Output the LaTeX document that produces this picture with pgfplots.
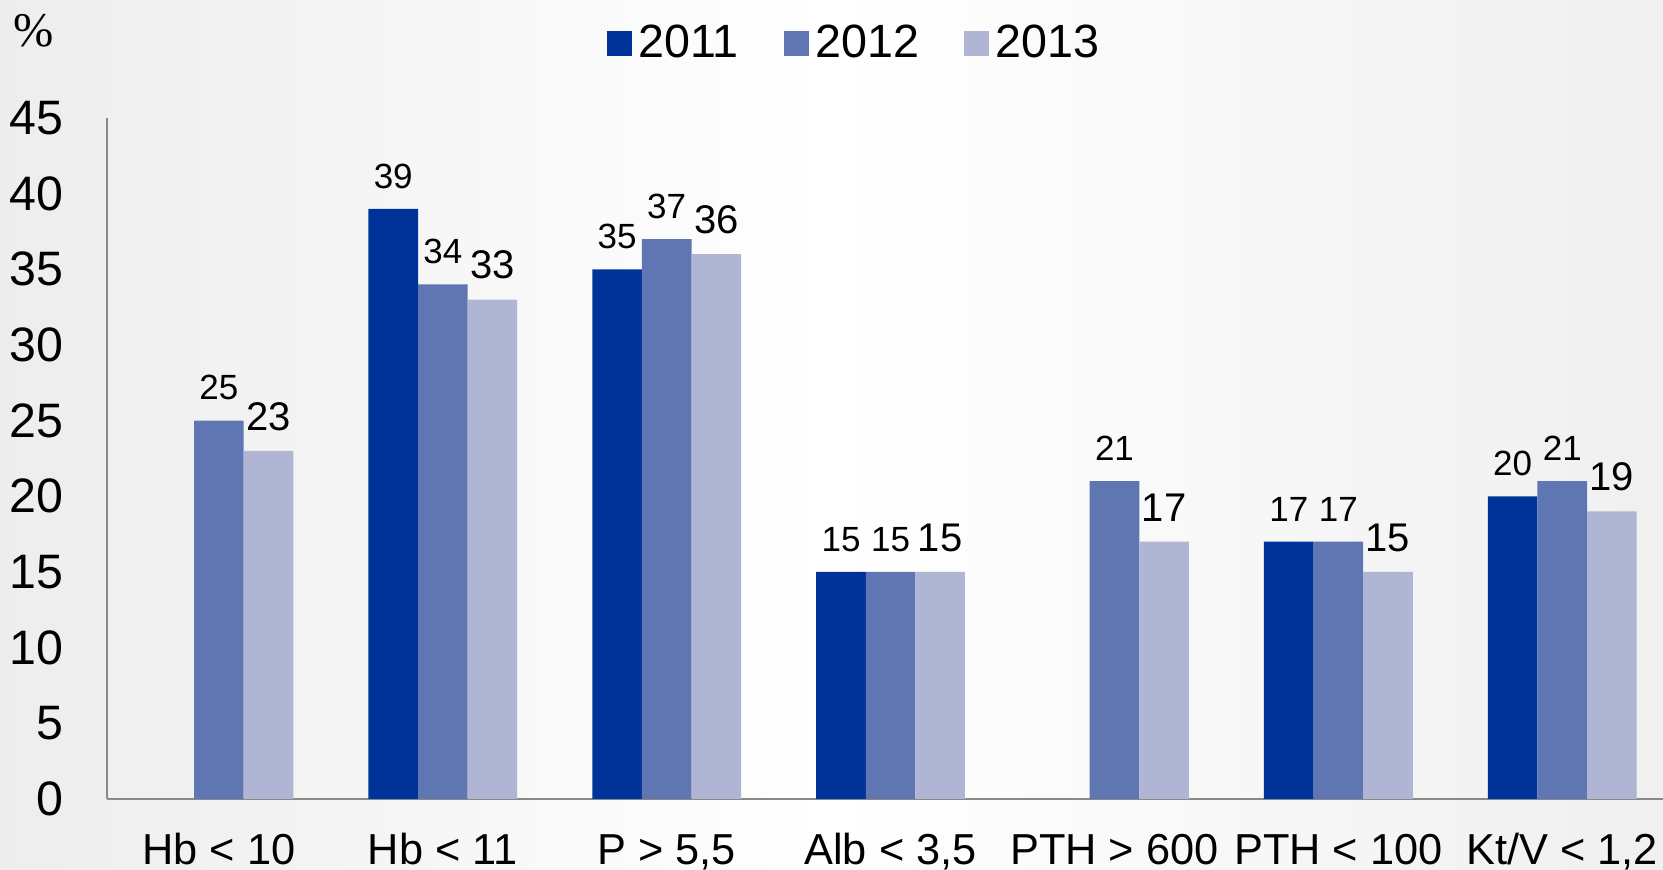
\documentclass[border=0pt]{standalone}
\usepackage{fontspec}
\setmainfont{Liberation Sans}
\newfontfamily\serifm{Liberation Serif}
\usepackage{pgfplots}
\pgfplotsset{compat=1.18}
\definecolor{cA}{RGB}{0,51,153}
\definecolor{cB}{RGB}{96,118,178}
\definecolor{cC}{RGB}{175,181,210}
\definecolor{axgray}{RGB}{137,137,137}
\begin{document}
\begin{tikzpicture}
\path[use as bounding box] (-32.1pt,-21.3pt) rectangle (466.8pt,239.7pt);
\shade[left color=black!7, right color=black!6, middle color=white] (-32.1pt,-21.3pt) rectangle (466.8pt,239.7pt);
\node[font=\serifm\fontsize{14.5}{16}\selectfont, inner sep=0pt] at (-22.05pt,230.55pt) {\%};
\begin{axis}[
  at={(0pt,0pt)}, anchor=south west,
  scale only axis, width=466.8pt, height=204.3pt,
  xmin=-0.5, xmax=6.45, ymin=0, ymax=45,
  axis lines*=left,
  axis line style={draw=axgray, line width=0.6pt},
  ybar, bar width=0.2215,
  xtick={0,1,2,3,4,5,6},
  xticklabels={{Hb < 10}, {Hb < 11}, {P > 5,5}, {Alb < 3,5}, {PTH > 600}, {PTH < 100}, {Kt/V < 1,2}},
  ytick={0,5,...,45},
  major tick length=0pt,
  tick style={draw=none},
  /pgf/number format/assume math mode=true,
  yticklabel style={font=\fontsize{14.5}{17}\selectfont, anchor=east, inner sep=0pt, xshift=-12.9pt},
  xticklabel style={font=\fontsize{13}{15}\selectfont, anchor=base, inner sep=0pt, yshift=-19.8pt},
  legend columns=3,
  legend style={at={(0.4817,1.109)}, anchor=center, draw=none, fill=none,
    font=\fontsize{14}{16}\selectfont,
    /tikz/every even column/.append style={column sep=11.5pt}},
  legend image code/.code={\fill[#1] (0pt,-3.75pt) rectangle (7.5pt,3.75pt);},
  nodes near coords,
]
\addplot[fill=cA, draw=none, bar shift=-0.2215,
  every node near coord/.append style={font=\fontsize{10.5}{12}\selectfont, anchor=base, inner sep=0pt, yshift=6.2pt}]
  coordinates {(1,39) (2,35) (3,15) (5,17) (6,20)};
\addplot[fill=cB, draw=none, bar shift=0,
  every node near coord/.append style={font=\fontsize{10.5}{12}\selectfont, anchor=base, inner sep=0pt, yshift=6.2pt}]
  coordinates {(0,25) (1,34) (2,37) (3,15) (4,21) (5,17) (6,21)};
\addplot[fill=cC, draw=none, bar shift=0.2215,
  every node near coord/.append style={font=\fontsize{12}{14}\selectfont, anchor=base, inner sep=0pt, yshift=6.2pt}]
  coordinates {(0,23) (1,33) (2,36) (3,15) (4,17) (5,15) (6,19)};
\legend{2011,2012,2013}
\end{axis}
\end{tikzpicture}
\end{document}
